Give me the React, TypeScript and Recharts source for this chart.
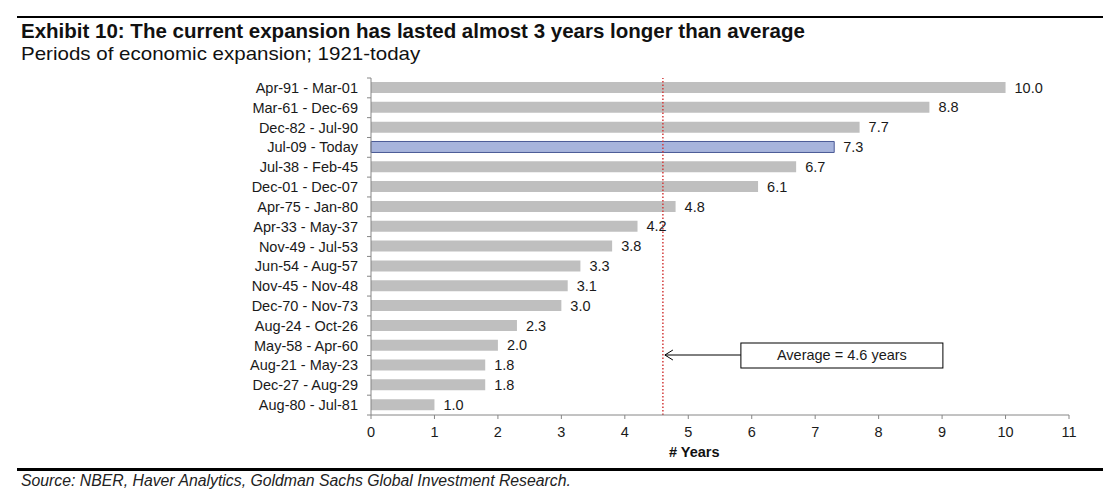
import React from "react";
import {
  BarChart,
  Bar,
  XAxis,
  YAxis,
  Cell,
  LabelList,
  ReferenceLine,
} from "recharts";

// Expansion periods, longest first
const periods = [
  "Apr-91 - Mar-01",
  "Mar-61 - Dec-69",
  "Dec-82 - Jul-90",
  "Jul-09 - Today",
  "Jul-38 - Feb-45",
  "Dec-01 - Dec-07",
  "Apr-75 - Jan-80",
  "Apr-33 - May-37",
  "Nov-49 - Jul-53",
  "Jun-54 - Aug-57",
  "Nov-45 - Nov-48",
  "Dec-70 - Nov-73",
  "Aug-24 - Oct-26",
  "May-58 - Apr-60",
  "Aug-21 - May-23",
  "Dec-27 - Aug-29",
  "Aug-80 - Jul-81",
];

const years = [10.0, 8.8, 7.7, 7.3, 6.7, 6.1, 4.8, 4.2, 3.8, 3.3, 3.1, 3.0, 2.3, 2.0, 1.8, 1.8, 1.0];

const xTicks = [0, 1, 2, 3, 4, 5, 6, 7, 8, 9, 10, 11];

const currentPeriod = "Jul-09 - Today";
const averageYears = 4.6;

const rows = periods.map((period, i) => ({ period, years: years[i] }));

const FONT = '"Liberation Sans", Arial, sans-serif';
const AXIS_GREY = "#868686";
const BAR_GREY = "#bfbfbf";
const TEXT = "#1a1a1a";
const FS = 14.5;

const PLOT_TOP = 78;
const PLOT_BOTTOM = 415;
const HALF_BAND = (PLOT_BOTTOM - PLOT_TOP) / periods.length / 2;

// category label plus a small tick at the band boundaries, like Excel
const PeriodTick = (props: any) => {
  const { x, y, payload, index } = props;
  const last = index === periods.length - 1;
  return (
    <g>
      <line x1={x - 4} x2={x} y1={y - HALF_BAND} y2={y - HALF_BAND} stroke={AXIS_GREY} />
      {last && <line x1={x - 4} x2={x} y1={y + HALF_BAND} y2={y + HALF_BAND} stroke={AXIS_GREY} />}
      <text x={x - 13} y={y} dy={5} textAnchor="end" fontSize={FS} fill={TEXT} fontFamily={FONT}>
        {payload.value}
      </text>
    </g>
  );
};

// arrow + boxed caption pointing at the average line
const AverageNote = (props: any) => {
  const vb = props.viewBox || {};
  const lx = vb.x ?? 0;
  const top = vb.y ?? PLOT_TOP;
  const ay = top + 277;
  const boxL = lx + 78;
  const boxW = 202;
  return (
    <g>
      <line x1={lx + 2} x2={boxL} y1={ay} y2={ay} stroke="#000" strokeWidth={1} />
      <polyline
        points={`${lx + 10},${ay - 5} ${lx + 2},${ay} ${lx + 10},${ay + 5}`}
        fill="none"
        stroke="#000"
        strokeWidth={1}
      />
      <rect x={boxL} y={ay - 12} width={boxW} height={25} fill="#fff" stroke="#000" strokeWidth={1} />
      <text x={boxL + boxW / 2} y={ay} dy={5} textAnchor="middle" fontSize={FS} fill={TEXT} fontFamily={FONT}>
        {`Average = ${averageYears} years`}
      </text>
    </g>
  );
};

export default function App() {
  return (
    <div
      style={{
        position: "absolute",
        left: 0,
        top: 0,
        width: 1103,
        height: 500,
        background: "#fff",
        fontFamily: FONT,
        overflow: "hidden",
      }}
    >
      <div style={{ position: "absolute", left: 17, right: 0, top: 16, height: 2, background: "#000" }} />
      <div
        style={{
          position: "absolute",
          left: 21,
          top: 19,
          fontSize: 20.5,
          fontWeight: "bold",
          color: "#111",
          whiteSpace: "nowrap",
          lineHeight: "24px",
        }}
      >
        Exhibit 10: The current expansion has lasted almost 3 years longer than average
      </div>
      <div
        style={{
          position: "absolute",
          left: 21,
          top: 42,
          fontSize: 19,
          color: "#111",
          whiteSpace: "nowrap",
          lineHeight: "24px",
          transform: "scaleX(1.08)",
          transformOrigin: "left center",
        }}
      >
        Periods of economic expansion; 1921-today
      </div>

      <div style={{ position: "absolute", left: 0, top: 0 }}>
        <BarChart
          width={1103}
          height={500}
          data={rows}
          layout="vertical"
          margin={{ top: PLOT_TOP, right: 34, bottom: 55, left: 0 }}
          barSize={11}
        >
          <XAxis
            type="number"
            domain={[0, 11]}
            ticks={xTicks}
            interval={0}
            tickSize={4}
            tickMargin={8}
            height={30}
            stroke={AXIS_GREY}
            tick={{ fontSize: FS, fill: TEXT, fontFamily: FONT }}
          />
          <YAxis
            type="category"
            dataKey="period"
            width={371}
            interval={0}
            tickSize={0}
            tickMargin={0}
            tickLine={false}
            stroke={AXIS_GREY}
            tick={<PeriodTick />}
          />
          <ReferenceLine
            x={averageYears}
            stroke="#d23a3a"
            strokeWidth={1.5}
            strokeDasharray="1.5 2"
            label={<AverageNote />}
            ifOverflow="extendDomain"
          />
          <Bar dataKey="years" isAnimationActive={false}>
            {rows.map((r) => (
              <Cell
                key={r.period}
                fill={r.period === currentPeriod ? "#a7b4dc" : BAR_GREY}
                stroke={r.period === currentPeriod ? "#4a5a96" : "none"}
                strokeWidth={1}
              />
            ))}
            <LabelList
              dataKey="years"
              position="right"
              offset={9}
              formatter={(v: any) => Number(v).toFixed(1)}
              style={{ fontSize: FS, fill: TEXT, fontFamily: FONT }}
            />
          </Bar>
        </BarChart>
      </div>

      <div
        style={{
          position: "absolute",
          left: 669,
          top: 444,
          fontSize: FS,
          fontWeight: "bold",
          color: "#111",
          lineHeight: "17px",
        }}
      >
        # Years
      </div>

      <div style={{ position: "absolute", left: 17, right: 0, top: 468, height: 3, background: "#000" }} />
      <div
        style={{
          position: "absolute",
          left: 21,
          top: 472,
          fontSize: 15.8,
          fontStyle: "italic",
          color: "#222",
          whiteSpace: "nowrap",
          lineHeight: "18px",
        }}
      >
        Source: NBER, Haver Analytics, Goldman Sachs Global Investment Research.
      </div>
    </div>
  );
}
